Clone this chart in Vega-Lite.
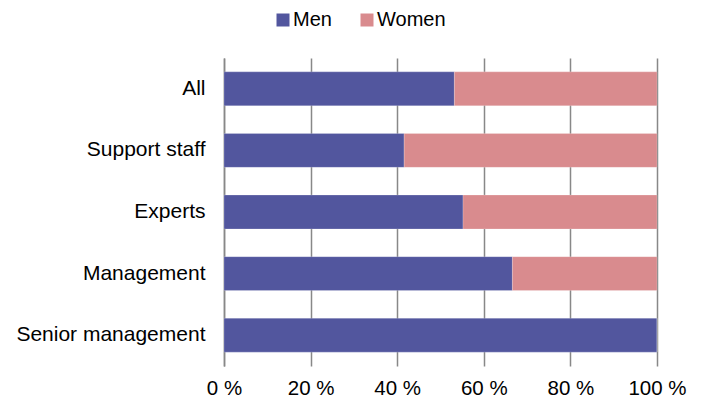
{
  "$schema": "https://vega.github.io/schema/vega-lite/v6.json",
  "width": 433,
  "height": 308,
  "autosize": {"type": "none"},
  "padding": {"left": 224, "top": 58, "right": 48, "bottom": 37},
  "background": "white",
  "config": {
    "font": "Liberation Sans",
    "view": {"stroke": null}
  },
  "data": {
    "values": [
      {"group": "All", "gender": "Men", "share": 53.2},
      {"group": "All", "gender": "Women", "share": 46.8},
      {"group": "Support staff", "gender": "Men", "share": 41.6},
      {"group": "Support staff", "gender": "Women", "share": 58.4},
      {"group": "Experts", "gender": "Men", "share": 55.2},
      {"group": "Experts", "gender": "Women", "share": 44.8},
      {"group": "Management", "gender": "Men", "share": 66.6},
      {"group": "Management", "gender": "Women", "share": 33.4},
      {"group": "Senior management", "gender": "Men", "share": 100},
      {"group": "Senior management", "gender": "Women", "share": 0}
    ]
  },
  "mark": {"type": "bar", "stroke": "white", "strokeWidth": 0.5, "strokeOpacity": 0.4},
  "encoding": {
    "y": {
      "field": "group",
      "type": "nominal",
      "sort": ["All", "Support staff", "Experts", "Management", "Senior management"],
      "scale": {"paddingInner": 0.45, "paddingOuter": 0.225},
      "axis": {
        "title": null,
        "ticks": false,
        "labelPadding": 19,
        "labelFontSize": 21,
        "labelLimit": 0,
        "labelColor": "#000",
        "domainColor": "#888",
        "domainWidth": 1.5,
        "grid": false
      }
    },
    "x": {
      "field": "share",
      "type": "quantitative",
      "stack": "zero",
      "scale": {"domain": [0, 100], "nice": false},
      "axis": {
        "title": null,
        "values": [0, 20, 40, 60, 80, 100],
        "labelExpr": "datum.value + ' %'",
        "labelFontSize": 20.5,
        "labelColor": "#000",
        "labelPadding": 12,
        "ticks": false,
        "domain": false,
        "grid": true,
        "gridColor": "#888",
        "gridWidth": 1.5,
        "labelFlush": false
      }
    },
    "color": {
      "field": "gender",
      "type": "nominal",
      "scale": {"domain": ["Men", "Women"], "range": ["#52569E", "#D98B8E"]},
      "legend": {
        "title": null,
        "orient": "none",
        "direction": "horizontal",
        "legendX": 49,
        "legendY": -48,
        "padding": 0,
        "symbolType": "square",
        "symbolSize": 169,
        "symbolStrokeWidth": 0,
        "labelFontSize": 20,
        "labelColor": "#000",
        "labelOffset": 0,
        "columnPadding": 25
      }
    },
    "order": {"field": "gender", "sort": "ascending"}
  }
}
